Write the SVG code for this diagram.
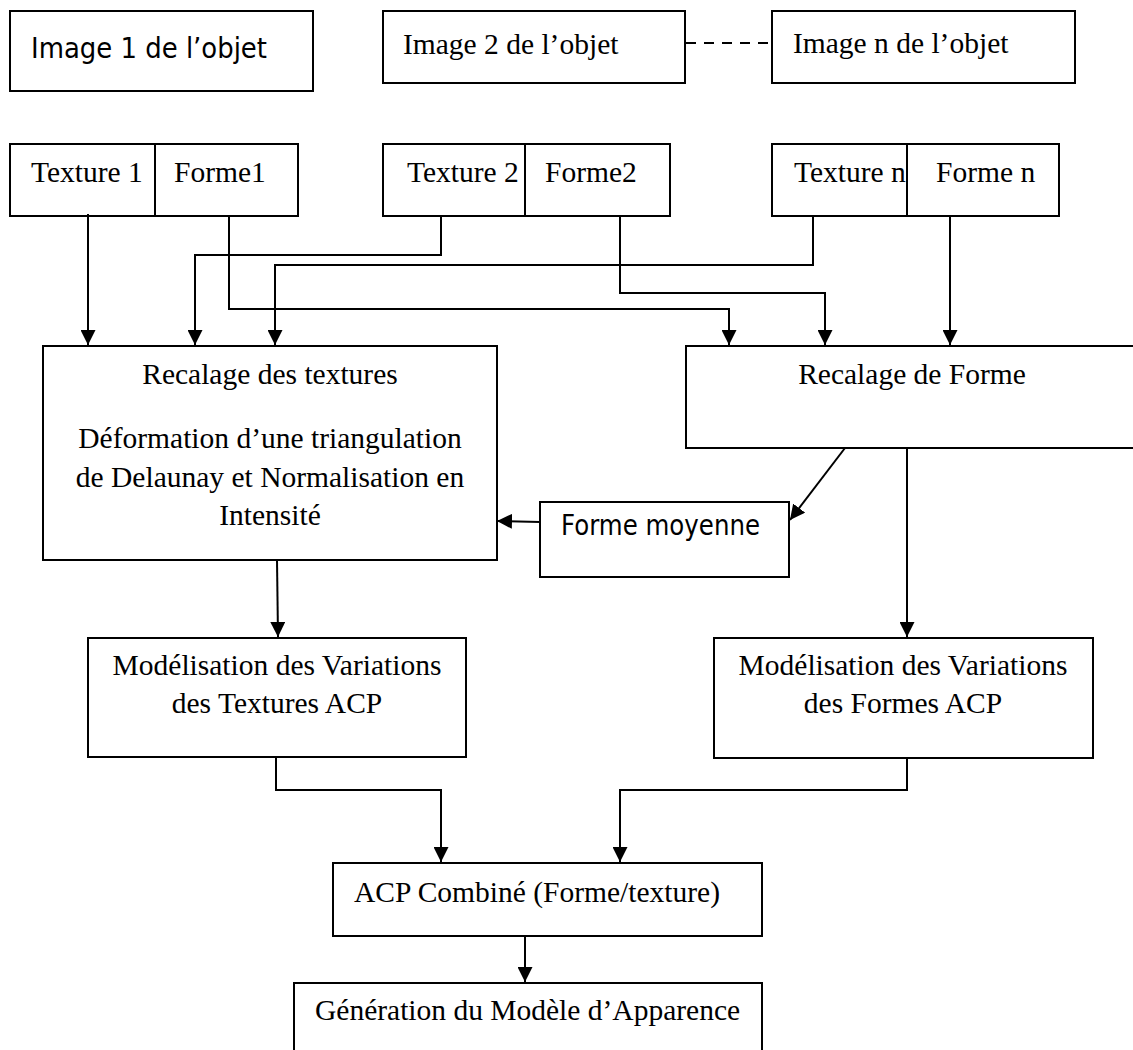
<svg xmlns="http://www.w3.org/2000/svg" width="1133" height="1050" viewBox="0 0 1133 1050">
<style>
.box{fill:#fff;stroke:#000;stroke-width:2}
.t{font-family:"Liberation Serif","Times New Roman",serif;font-size:29.5px;fill:#000}
.m{text-anchor:middle}
.s{font-family:"DejaVu Sans",Tahoma,sans-serif;fill:#000}
.c{fill:none;stroke:#000;stroke-width:2}
.a{marker-end:url(#ah)}
</style>
<defs>
<marker id="ah" markerUnits="userSpaceOnUse" markerWidth="15" markerHeight="15" viewBox="0 0 15 15" refX="15" refY="7.5" orient="auto"><path d="M0,0 L15,7.5 L0,15 z" fill="#000"/></marker>
</defs>
<rect width="1133" height="1050" fill="#fff"/>
<g id="image1"><rect class="box" x="10" y="11" width="303" height="80"/><text class="s" x="31" y="58" font-size="29" textLength="236" lengthAdjust="spacingAndGlyphs">Image 1 de l’objet</text></g>
<g id="image2"><rect class="box" x="383" y="11" width="302" height="72"/><text class="t" x="403" y="54">Image 2 de l’objet</text></g>
<g id="imagen"><rect class="box" x="772" y="11" width="303" height="72"/><text class="t" x="793" y="53">Image n de l’objet</text></g>
<g id="tf1"><rect class="box" x="10" y="144" width="288" height="72"/><line class="c" x1="155" y1="144" x2="155" y2="216"/><text class="t" x="31" y="182">Texture 1</text><text class="t" x="174" y="182">Forme1</text></g>
<g id="tf2"><rect class="box" x="383" y="144" width="287" height="72"/><line class="c" x1="525" y1="144" x2="525" y2="216"/><text class="t" x="407" y="182">Texture 2</text><text class="t" x="545" y="182">Forme2</text></g>
<g id="tfn"><rect class="box" x="772" y="144" width="287" height="72"/><line class="c" x1="907" y1="144" x2="907" y2="216"/><text class="t" x="794" y="182">Texture n</text><text class="t" x="936" y="182">Forme n</text></g>
<g id="recalage-textures"><rect class="box" x="43" y="346" width="454" height="214"/>
<text class="t m" x="270" y="384">Recalage des textures</text>
<text class="t m" x="270" y="448">Déformation d’une triangulation</text>
<text class="t m" x="270" y="487">de Delaunay et Normalisation en</text>
<text class="t m" x="270" y="525">Intensité</text></g>
<g id="recalage-forme"><rect class="box" x="686" y="346" width="460" height="102"/><text class="t m" x="912" y="384">Recalage de Forme</text></g>
<g id="forme-moyenne"><rect class="box" x="540" y="502" width="249" height="75"/><text class="s" x="561" y="535" font-size="28" textLength="199" lengthAdjust="spacingAndGlyphs">Forme moyenne</text></g>
<g id="mod-textures"><rect class="box" x="88" y="638" width="378" height="119"/>
<text class="t m" x="277" y="675">Modélisation des Variations</text>
<text class="t m" x="277" y="713">des Textures ACP</text></g>
<g id="mod-formes"><rect class="box" x="714" y="638" width="379" height="120"/>
<text class="t m" x="903" y="675">Modélisation des Variations</text>
<text class="t m" x="903" y="713">des Formes ACP</text></g>
<g id="acp"><rect class="box" x="333" y="863" width="429" height="73"/><text class="t" x="354" y="902">ACP Combiné (Forme/texture)</text></g>
<g id="generation"><rect class="box" x="294" y="983" width="468" height="90"/><text class="t" x="315" y="1020">Génération du Modèle d’Apparence</text></g>
<g id="connectors">
<path class="c" d="M686,43 H772" stroke-dasharray="10 8"/>
<path class="c a" d="M88,214 V345"/>
<path class="c a" d="M441,216 V255 H195 V345"/>
<path class="c a" d="M813,216 V265 H275 V345"/>
<path class="c a" d="M229,216 V309 H729 V345"/>
<path class="c a" d="M620,216 V293 H825 V345"/>
<path class="c a" d="M950,216 V345"/>
<path class="c a" d="M845,448 L790,520"/>
<path class="c a" d="M540,522 L497,521"/>
<path class="c a" d="M907,448 V637"/>
<path class="c a" d="M277,560 L278,637"/>
<path class="c a" d="M276,757 V790 H441 V862"/>
<path class="c a" d="M907,758 V790 H620 V862"/>
<path class="c a" d="M525,936 V982"/>
</g>
</svg>
